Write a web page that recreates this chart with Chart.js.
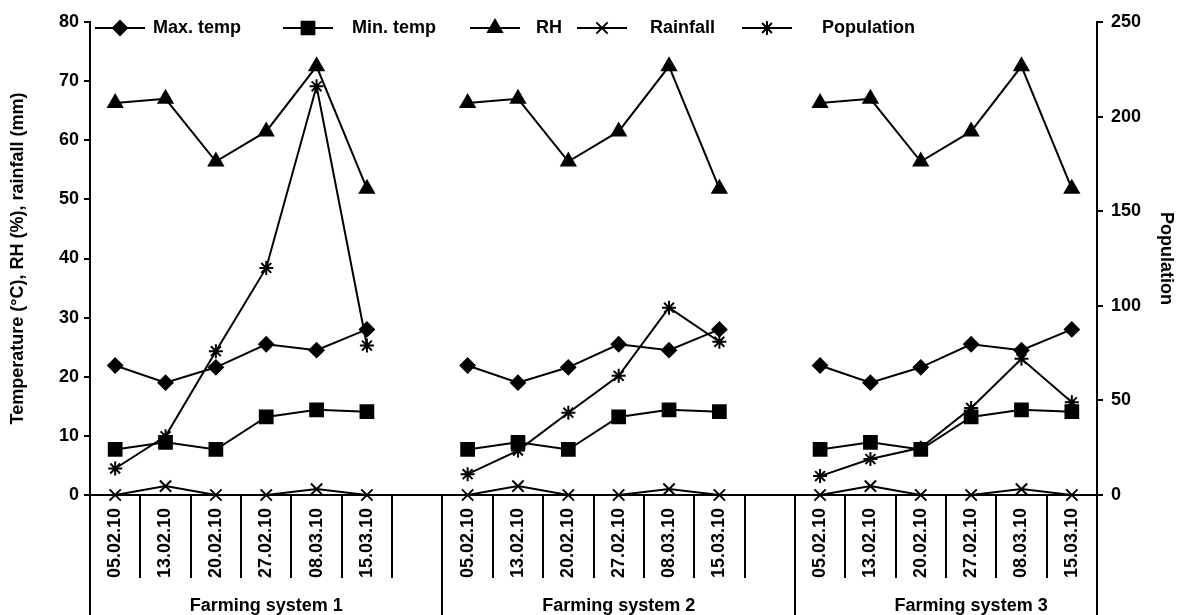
<!DOCTYPE html>
<html>
<head>
<meta charset="utf-8">
<title>Weather and population by farming system</title>
<script src="https://cdn.jsdelivr.net/npm/chart.js@4.4.0/dist/chart.umd.min.js"></script>
<style>
  html, body { margin: 0; padding: 0; background: #fff; }
</style>
</head>
<body>
<canvas id="chart" width="1180" height="615"></canvas>
<script>
// Sampling dates (same in every farming system)
const dates = ['05.02.10', '13.02.10', '20.02.10', '27.02.10', '08.03.10', '15.03.10'];
const groupLabels = ['Farming system 1', 'Farming system 2', 'Farming system 3'];

// Weather values (identical for the three systems)
const maxTemp = [21.9, 19.0, 21.6, 25.5, 24.5, 28.0];
const minTemp = [7.7, 8.9, 7.7, 13.2, 14.4, 14.1];
const relHumidity = [66.3, 67.0, 56.4, 61.5, 72.5, 51.8];
const rainfall = [0, 1.5, 0, 0, 1.0, 0];

// Population per farming system (right axis)
const population1 = [14, 31, 76, 120, 216, 79];
const population2 = [11, 23.5, 43.5, 63, 99, 81];
const population3 = [10, 19, 25, 46, 72, 49];

const leftTicks = [0, 10, 20, 30, 40, 50, 60, 70, 80];
const rightTicks = [0, 50, 100, 150, 200, 250];

// an empty slot separates system 1 from 2 and 2 from 3
const categories = [...dates, '', ...dates, '', ...dates];
const groupStarts = [0, dates.length + 1, 2 * (dates.length + 1)];

function acrossGroups(g1, g2, g3) {
    return [...g1, null, ...g2, null, ...g3];
}

const FONT = '"Liberation Sans", Arial, sans-serif';
Chart.defaults.font.family = FONT;
Chart.defaults.font.size = 18;
Chart.defaults.font.weight = 'bold';
Chart.defaults.color = '#000';

function series(label, data, style, radius, axis) {
    return {
        label: label,
        data: data,
        yAxisID: axis || 'y',
        borderColor: '#000',
        backgroundColor: '#000',
        borderWidth: 2,
        pointStyle: style,
        pointRadius: radius,
        pointHoverRadius: radius,
        pointBorderWidth: 2,
        pointBackgroundColor: '#000',
        pointBorderColor: '#000',
        tension: 0,
        spanGaps: false,
        clip: false
    };
}

// Legend drawn along the top of the plot, Excel style (line through marker)
const legendLayout = { y: 28, lineStart: [95, 283, 470, 577, 742], lineLength: 50, textStart: [153, 352, 536, 650, 822] };

const topLegend = {
    id: 'topLegend',
    afterDraw(chart) {
        const ctx = chart.ctx;
        ctx.save();
        chart.data.datasets.forEach((ds, i) => {
            const x0 = legendLayout.lineStart[i];
            const y = legendLayout.y;
            ctx.strokeStyle = '#000';
            ctx.fillStyle = '#000';
            ctx.lineWidth = 2;
            ctx.beginPath();
            ctx.moveTo(x0, y);
            ctx.lineTo(x0 + legendLayout.lineLength, y);
            ctx.stroke();
            Chart.helpers.drawPoint(ctx, {
                pointStyle: ds.pointStyle, radius: ds.pointRadius, rotation: 0, borderWidth: 2
            }, x0 + legendLayout.lineLength / 2, y);
            ctx.font = 'bold 18px ' + FONT;
            ctx.textBaseline = 'middle';
            ctx.textAlign = 'left';
            ctx.fillText(ds.label, legendLayout.textStart[i], y);
        });
        ctx.restore();
    }
};

// Category separators below the axis and the farming system captions
const groupAxis = {
    id: 'groupAxis',
    afterDraw(chart) {
        const ctx = chart.ctx;
        const x = chart.scales.x;
        const n = categories.length;
        const slot = (x.right - x.left) / n;
        ctx.save();
        ctx.strokeStyle = '#000';
        ctx.lineWidth = 2;
        ctx.beginPath();
        for (let i = 0; i <= n; i++) {
            const bx = Math.round(x.left + i * slot);
            const long = i === 0 || i === n || groupStarts.includes(i);
            ctx.moveTo(bx, x.top);
            ctx.lineTo(bx, long ? chart.height : x.top + 83);
        }
        ctx.stroke();
        ctx.font = 'bold 18px ' + FONT;
        ctx.textAlign = 'center';
        ctx.textBaseline = 'alphabetic';
        groupStarts.forEach((start, g) => {
            const left = x.left + start * slot;
            const right = left + (dates.length + 1) * slot;
            ctx.fillText(groupLabels[g], (left + right) / 2, 611);
        });
        ctx.restore();
    }
};

new Chart(document.getElementById('chart'), {
    type: 'line',
    data: {
        labels: categories,
        datasets: [
            series('Max. temp', acrossGroups(maxTemp, maxTemp, maxTemp), 'rectRot', 7),
            series('Min. temp', acrossGroups(minTemp, minTemp, minTemp), 'rect', 9),
            series('RH', acrossGroups(relHumidity, relHumidity, relHumidity), 'triangle', 8),
            series('Rainfall', acrossGroups(rainfall, rainfall, rainfall), 'crossRot', 8),
            series('Population', acrossGroups(population1, population2, population3), 'star', 7, 'y1')
        ]
    },
    options: {
        responsive: false,
        animation: false,
        layout: { padding: { top: 22, left: 0, right: 0, bottom: 0 } },
        plugins: {
            legend: { display: false },
            tooltip: { enabled: false }
        },
        scales: {
            x: {
                type: 'category',
                offset: true,
                grid: { display: false, drawTicks: false },
                border: { display: true, color: '#000', width: 2 },
                ticks: {
                    autoSkip: false,
                    maxRotation: 90,
                    minRotation: 90,
                    padding: 13,
                    font: { size: 18, weight: 'bold' }
                },
                afterFit(scale) { scale.height = 120; }
            },
            y: {
                position: 'left',
                min: 0,
                max: 80,
                afterBuildTicks(scale) { scale.ticks = leftTicks.map(v => ({ value: v })); },
                grid: { drawOnChartArea: false, tickLength: 6, color: '#000', lineWidth: 2 },
                border: { display: true, color: '#000', width: 2 },
                ticks: { padding: 5, font: { size: 18, weight: 'bold' } },
                title: {
                    display: true,
                    text: 'Temperature (°C), RH (%), rainfall (mm)',
                    padding: { top: 7, bottom: 0 },
                    font: { size: 18, weight: 'bold' }
                },
                afterFit(scale) { scale.width = 90; }
            },
            y1: {
                position: 'right',
                min: 0,
                max: 250,
                afterBuildTicks(scale) { scale.ticks = rightTicks.map(v => ({ value: v })); },
                grid: { drawOnChartArea: false, tickLength: 6, color: '#000', lineWidth: 2 },
                border: { display: true, color: '#000', width: 2 },
                ticks: { padding: 8, font: { size: 18, weight: 'bold' } },
                title: {
                    display: true,
                    text: 'Population',
                    padding: { top: 3, bottom: 0 },
                    font: { size: 18, weight: 'bold' }
                },
                afterFit(scale) { scale.width = 83; }
            }
        }
    },
    plugins: [topLegend, groupAxis]
});
</script>
</body>
</html>
